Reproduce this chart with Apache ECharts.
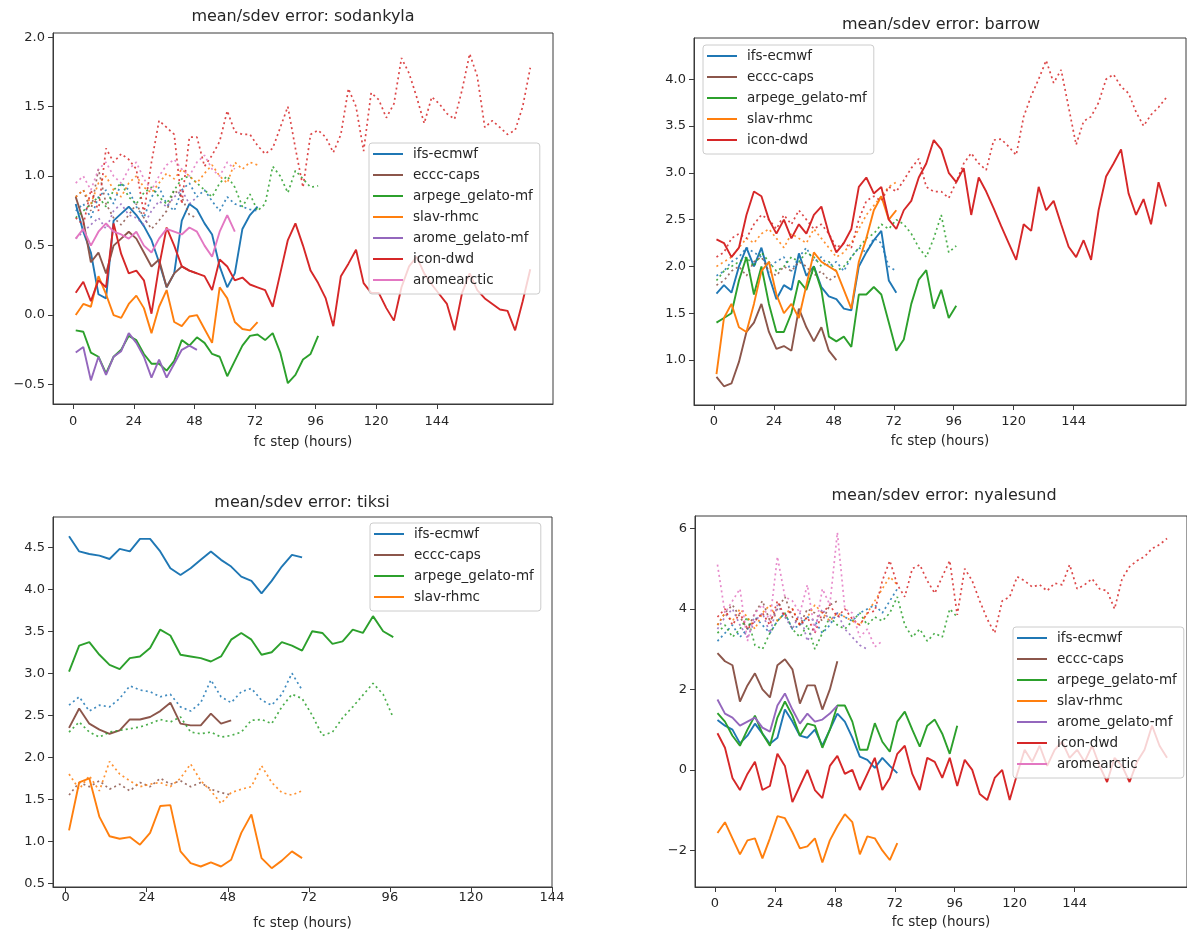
<!DOCTYPE html>
<html>
<head>
<meta charset="utf-8">
<title>mean/sdev error</title>
<script src="https://cdn.jsdelivr.net/npm/echarts@6/dist/echarts.min.js"></script>
<style>
  html, body { margin: 0; padding: 0; background: #ffffff; }
  #chart { width: 1187px; height: 930px; }
</style>
</head>
<body>
<div id="chart"></div>
<script>
// Forecast steps: every series starts at hour 1 and is sampled every 3 hours.
const STEP_START = 1;
const STEP_HOURS = 3;

const xTicks = [0, 24, 48, 72, 96, 120, 144];
const sodYTicks = [-0.5, 0.0, 0.5, 1.0, 1.5, 2.0];
const barYTicks = [1.0, 1.5, 2.0, 2.5, 3.0, 3.5, 4.0];
const tikYTicks = [0.5, 1.0, 1.5, 2.0, 2.5, 3.0, 3.5, 4.0, 4.5];
const nyaYTicks = [-2, 0, 2, 4, 6];

const stations = ['sodankyla', 'barrow', 'tiksi', 'nyalesund'];
const models = ['ifs-ecmwf', 'eccc-caps', 'arpege_gelato-mf', 'slav-rhmc', 'arome_gelato-mf', 'icon-dwd', 'aromearctic'];

// ---- sodankyla ----
const sodIfsMean = [0.80,0.60,0.45,0.15,0.12,0.68,0.73,0.78,0.72,0.64,0.54,0.38,0.20,0.30,0.68,0.80,0.76,0.66,0.58,0.35,0.20,0.30,0.62,0.72,0.78];
const sodIfsSdev = [0.75,0.80,0.70,0.85,0.90,0.80,0.95,0.90,0.78,0.70,0.85,0.92,0.80,0.75,0.90,0.95,0.85,0.90,0.82,0.75,0.85,0.80,0.78,0.76,0.75];
const sodEccMean = [0.85,0.68,0.38,0.45,0.30,0.50,0.55,0.60,0.55,0.45,0.35,0.40,0.20,0.30,0.35,0.32,0.30];
const sodEccSdev = [0.85,0.90,0.75,1.05,0.80,0.70,0.65,0.72,0.80,0.70,0.62,0.68,0.75,0.90,0.85,0.72,0.70];
const sodArpMean = [-0.11,-0.12,-0.27,-0.30,-0.42,-0.30,-0.25,-0.15,-0.18,-0.28,-0.35,-0.35,-0.40,-0.33,-0.18,-0.22,-0.16,-0.20,-0.28,-0.30,-0.44,-0.33,-0.22,-0.15,-0.14,-0.18,-0.13,-0.27,-0.49,-0.43,-0.32,-0.28,-0.15];
const sodArpSdev = [0.70,0.75,0.80,0.85,0.78,0.90,0.95,0.85,0.80,0.88,0.92,0.85,0.80,0.90,0.98,1.00,0.95,0.90,0.85,0.95,1.00,0.92,0.78,0.87,0.75,0.80,1.07,1.00,0.88,1.04,0.98,0.92,0.93];
const sodSlaMean = [0.00,0.08,0.06,0.28,0.15,0.00,-0.02,0.08,0.14,0.05,-0.13,0.06,0.18,-0.05,-0.08,-0.01,0.00,-0.10,-0.20,0.20,0.12,-0.05,-0.10,-0.11,-0.05];
const sodSlaSdev = [0.85,0.90,0.80,0.95,1.00,0.90,0.85,0.95,1.00,0.92,0.88,0.95,1.02,0.98,1.05,1.00,0.95,1.02,1.08,1.00,0.95,1.10,1.05,1.10,1.08];
const sodAroMean = [-0.27,-0.23,-0.47,-0.30,-0.43,-0.30,-0.26,-0.13,-0.20,-0.30,-0.45,-0.32,-0.45,-0.35,-0.25,-0.22,-0.25];
const sodAroSdev = [0.55,0.60,0.65,0.70,0.62,0.75,0.80,0.72,0.70,0.65,0.75,0.82,0.78,0.85,0.90,0.80,0.85];
const sodIcoMean = [0.16,0.24,0.10,0.25,0.20,0.66,0.44,0.30,0.32,0.25,0.01,0.35,0.63,0.50,0.35,0.32,0.30,0.28,0.18,0.40,0.35,0.25,0.27,0.22,0.20,0.18,0.06,0.30,0.54,0.66,0.50,0.32,0.23,0.12,-0.08,0.28,0.37,0.47,0.23,0.16,0.16,0.05,-0.04,0.20,0.35,0.42,0.30,0.22,0.15,0.08,-0.11,0.16,0.30,0.18,0.12,0.08,0.04,0.03,-0.11,0.10,0.33];
const sodIcoSdev = [0.70,0.65,0.90,0.75,1.20,1.10,1.16,1.12,1.05,0.73,1.10,1.40,1.35,1.30,0.80,1.28,1.28,1.07,1.15,1.25,1.47,1.32,1.30,1.30,1.22,1.16,1.20,1.35,1.50,1.20,0.92,1.30,1.33,1.28,1.17,1.30,1.63,1.50,1.18,1.60,1.55,1.42,1.52,1.85,1.74,1.57,1.38,1.57,1.52,1.45,1.41,1.62,1.88,1.72,1.35,1.40,1.35,1.30,1.33,1.50,1.78];
const sodArcMean = [0.55,0.62,0.50,0.60,0.66,0.60,0.58,0.55,0.60,0.50,0.45,0.55,0.62,0.60,0.58,0.63,0.60,0.50,0.42,0.60,0.72,0.60];
const sodArcSdev = [0.95,1.00,0.90,1.05,1.10,1.00,0.95,1.05,1.10,0.98,0.90,1.00,1.08,1.12,1.05,1.00,1.10,1.15,1.05,1.00,1.10,1.05];

// ---- barrow ----
const barIfsMean = [1.71,1.80,1.72,2.00,2.20,2.00,2.20,1.90,1.65,1.80,1.75,2.14,1.90,2.00,1.78,1.68,1.65,1.55,1.53,2.00,2.15,2.28,2.38,1.85,1.72];
const barIfsSdev = [1.90,1.95,2.05,2.10,2.20,2.15,2.10,2.00,2.05,2.10,1.95,2.10,2.20,2.05,2.10,2.00,2.05,1.95,2.10,2.20,2.15,2.30,2.25,2.00,1.95];
const barEccMean = [0.82,0.72,0.75,0.98,1.30,1.40,1.60,1.30,1.12,1.15,1.10,1.55,1.35,1.20,1.35,1.10,1.00];
const barEccSdev = [1.80,1.85,1.95,2.00,1.90,2.05,2.10,1.95,1.90,2.00,1.95,2.05,2.00,1.90,1.95,1.85,1.90];
const barArpMean = [1.40,1.45,1.50,1.85,2.10,1.70,2.00,1.60,1.30,1.30,1.50,1.85,1.75,2.00,1.75,1.25,1.20,1.25,1.14,1.70,1.70,1.78,1.70,1.40,1.10,1.22,1.60,1.86,1.96,1.55,1.75,1.45,1.58];
const barArpSdev = [1.85,1.95,2.00,2.05,2.10,2.00,2.15,2.05,1.95,2.00,2.10,2.05,2.15,2.10,2.00,2.05,1.95,2.00,2.10,2.20,2.30,2.35,2.45,2.40,2.50,2.45,2.35,2.20,2.10,2.30,2.55,2.15,2.22];
const barSlaMean = [0.85,1.45,1.60,1.35,1.30,1.60,1.95,2.05,1.70,1.50,1.60,1.45,1.80,2.15,2.05,2.00,1.95,1.75,1.55,2.05,2.30,2.60,2.75,2.50,2.60];
const barSlaSdev = [2.00,2.05,2.10,2.20,2.30,2.25,2.35,2.40,2.30,2.20,2.35,2.30,2.25,2.40,2.30,2.20,2.10,2.15,2.25,2.40,2.55,2.65,2.75,2.85,2.90];
const barIcoMean = [2.29,2.25,2.10,2.20,2.55,2.80,2.75,2.50,2.35,2.50,2.30,2.45,2.35,2.55,2.64,2.35,2.15,2.25,2.40,2.85,2.95,2.78,2.85,2.50,2.40,2.60,2.70,2.95,3.10,3.35,3.25,3.00,2.90,3.05,2.55,2.95,2.80,2.62,2.43,2.25,2.07,2.45,2.38,2.85,2.60,2.70,2.45,2.21,2.10,2.28,2.07,2.60,2.96,3.10,3.25,2.78,2.55,2.72,2.45,2.90,2.64];
const barIcoSdev = [2.10,2.15,2.30,2.35,2.30,2.45,2.55,2.50,2.40,2.55,2.45,2.60,2.50,2.40,2.45,2.35,2.20,2.25,2.20,2.50,2.70,2.75,2.70,2.85,2.80,2.92,3.05,3.15,2.85,2.80,2.80,2.73,2.90,3.10,3.21,3.10,3.03,3.35,3.36,3.28,3.19,3.60,3.82,4.00,4.20,3.96,4.10,3.70,3.30,3.55,3.60,3.75,4.00,4.05,3.92,3.85,3.65,3.50,3.62,3.70,3.80];

// ---- tiksi ----
const tikIfsMean = [4.63,4.45,4.42,4.40,4.36,4.48,4.45,4.60,4.60,4.45,4.25,4.17,4.25,4.35,4.45,4.35,4.27,4.15,4.10,3.95,4.10,4.27,4.41,4.38];
const tikIfsSdev = [2.62,2.72,2.55,2.62,2.60,2.70,2.85,2.80,2.78,2.72,2.75,2.60,2.55,2.65,2.92,2.72,2.65,2.78,2.82,2.68,2.62,2.75,3.00,2.80];
const tikEccMean = [2.35,2.58,2.40,2.33,2.28,2.32,2.45,2.45,2.48,2.55,2.65,2.40,2.38,2.38,2.52,2.40,2.44];
const tikEccSdev = [1.55,1.70,1.65,1.72,1.62,1.68,1.60,1.70,1.65,1.75,1.68,1.72,1.65,1.70,1.62,1.58,1.55];
const tikArpMean = [3.02,3.33,3.37,3.22,3.10,3.05,3.18,3.20,3.30,3.52,3.45,3.22,3.20,3.18,3.14,3.20,3.40,3.48,3.40,3.22,3.25,3.37,3.33,3.27,3.50,3.48,3.35,3.38,3.52,3.48,3.68,3.50,3.43];
const tikArpSdev = [2.30,2.42,2.30,2.24,2.30,2.32,2.34,2.36,2.40,2.45,2.42,2.48,2.30,2.28,2.30,2.24,2.26,2.30,2.44,2.45,2.40,2.60,2.75,2.70,2.50,2.26,2.30,2.47,2.60,2.74,2.88,2.75,2.47];
const tikSlaMean = [1.13,1.70,1.75,1.29,1.06,1.03,1.05,0.96,1.10,1.42,1.43,0.88,0.74,0.70,0.75,0.70,0.78,1.10,1.32,0.80,0.68,0.77,0.88,0.80];
const tikSlaSdev = [1.80,1.62,1.78,1.60,1.95,1.80,1.72,1.65,1.68,1.70,1.65,1.75,1.92,1.72,1.60,1.45,1.58,1.62,1.65,1.90,1.70,1.58,1.55,1.60];

// ---- nyalesund ----
const nyaIfsMean = [1.24,1.10,1.00,0.66,0.85,1.15,0.90,0.65,0.80,1.50,1.20,0.85,0.80,1.00,0.60,1.00,1.40,1.20,0.80,0.33,0.25,0.05,0.30,0.10,-0.08];
const nyaIfsSdev = [3.20,3.40,3.60,3.30,3.50,3.80,3.60,3.40,3.70,3.90,3.50,3.60,3.80,3.70,3.40,3.60,3.90,3.80,3.70,3.90,4.00,4.10,3.90,4.20,4.50];
const nyaEccMean = [2.90,2.70,2.60,1.70,2.10,2.40,2.00,1.80,2.60,2.75,2.50,1.65,2.10,2.10,1.50,2.00,2.70];
const nyaEccSdev = [3.60,3.90,4.10,3.80,3.50,3.90,4.20,3.70,4.00,4.30,3.80,3.60,4.00,3.90,3.70,4.10,4.20];
const nyaArpMean = [1.41,1.20,0.85,0.60,1.00,1.35,0.90,0.60,1.30,1.70,1.35,0.85,1.15,1.10,0.55,1.00,1.60,1.60,1.20,0.50,0.50,1.16,0.70,0.45,1.20,1.45,1.00,0.58,1.10,1.25,0.90,0.40,1.10];
const nyaArpSdev = [3.40,3.60,3.30,3.50,3.80,3.10,3.00,3.40,3.70,3.90,3.50,3.30,3.60,3.00,3.40,3.80,3.60,3.50,3.70,3.90,3.60,3.80,3.70,3.90,4.30,3.60,3.30,3.50,3.20,3.40,3.30,4.00,3.80];
const nyaSlaMean = [-1.57,-1.30,-1.70,-2.10,-1.75,-1.70,-2.20,-1.70,-1.15,-1.20,-1.55,-1.95,-1.90,-1.70,-2.30,-1.75,-1.40,-1.10,-1.30,-2.10,-1.65,-1.70,-2.00,-2.24,-1.82];
const nyaSlaSdev = [3.60,3.90,3.70,4.00,3.80,3.50,3.90,4.10,3.70,3.90,4.00,3.60,3.80,4.10,3.90,3.70,3.90,3.80,3.70,3.60,3.90,4.20,4.50,4.80,4.60];
const nyaAroMean = [1.75,1.40,1.30,1.10,1.20,1.30,1.05,0.95,1.60,1.90,1.50,1.15,1.40,1.20,1.25,1.40,1.60];
const nyaAroSdev = [3.50,3.80,4.00,3.60,3.30,3.70,3.90,3.40,4.10,3.80,3.50,3.90,3.20,3.60,4.00,3.70,3.90,3.50,3.30,3.10,3.00];
const nyaIcoMean = [0.91,0.55,-0.20,-0.50,-0.10,0.20,-0.50,-0.40,0.40,0.10,-0.80,-0.40,0.00,-0.50,-0.70,0.10,0.35,-0.10,0.00,-0.50,-0.10,0.30,-0.50,-0.20,0.40,0.60,-0.10,-0.50,0.30,0.20,-0.20,0.30,-0.40,0.25,0.00,-0.60,-0.75,-0.20,0.00,-0.75,-0.10,0.50,0.20,0.60,0.10,0.50,0.70,0.30,0.50,0.20,0.60,0.10,-0.30,0.30,0.10,-0.30,0.20,0.50,1.10,0.60,0.30];
const nyaIcoSdev = [3.80,4.00,3.60,3.90,3.50,3.70,3.90,3.60,4.20,3.80,4.00,3.60,3.80,3.40,3.90,4.10,3.80,4.00,3.75,3.60,3.90,3.95,4.70,5.20,4.60,4.30,5.00,5.10,4.70,4.39,4.80,5.20,3.85,5.00,4.70,4.20,3.75,3.40,4.20,4.30,4.80,4.70,4.55,4.60,4.45,4.64,4.60,5.10,4.50,4.60,4.75,4.50,4.45,4.00,4.75,5.05,5.20,5.30,5.50,5.60,5.75];
const nyaArcSdev = [5.10,3.90,4.20,4.50,3.20,3.90,4.10,3.70,5.30,4.30,4.20,3.90,4.60,3.40,4.50,4.10,5.90,4.00,3.90,3.30,3.50,3.06,3.20];

// ---------------------------------------------------------------
const FONT = '"DejaVu Sans", "Liberation Sans", sans-serif';
const INK = '#262626';
const SPINE = '#3a3a3a';
const COLORS = {
  'ifs-ecmwf': '#1f77b4',
  'eccc-caps': '#8c564b',
  'arpege_gelato-mf': '#2ca02c',
  'slav-rhmc': '#ff7f0e',
  'arome_gelato-mf': '#9467bd',
  'icon-dwd': '#d62728',
  'aromearctic': '#e377c2'
};

// per panel: [model, mean values, sdev values]
const panelLines = [
  [
    ['ifs-ecmwf', sodIfsMean, sodIfsSdev],
    ['eccc-caps', sodEccMean, sodEccSdev],
    ['arpege_gelato-mf', sodArpMean, sodArpSdev],
    ['slav-rhmc', sodSlaMean, sodSlaSdev],
    ['arome_gelato-mf', sodAroMean, sodAroSdev],
    ['icon-dwd', sodIcoMean, sodIcoSdev],
    ['aromearctic', sodArcMean, sodArcSdev]
  ],
  [
    ['ifs-ecmwf', barIfsMean, barIfsSdev],
    ['eccc-caps', barEccMean, barEccSdev],
    ['arpege_gelato-mf', barArpMean, barArpSdev],
    ['slav-rhmc', barSlaMean, barSlaSdev],
    ['icon-dwd', barIcoMean, barIcoSdev]
  ],
  [
    ['ifs-ecmwf', tikIfsMean, tikIfsSdev],
    ['eccc-caps', tikEccMean, tikEccSdev],
    ['arpege_gelato-mf', tikArpMean, tikArpSdev],
    ['slav-rhmc', tikSlaMean, tikSlaSdev]
  ],
  [
    ['ifs-ecmwf', nyaIfsMean, nyaIfsSdev],
    ['eccc-caps', nyaEccMean, nyaEccSdev],
    ['arpege_gelato-mf', nyaArpMean, nyaArpSdev],
    ['slav-rhmc', nyaSlaMean, nyaSlaSdev],
    ['arome_gelato-mf', nyaAroMean, nyaAroSdev],
    ['icon-dwd', nyaIcoMean, nyaIcoSdev],
    ['aromearctic', null, nyaArcSdev]
  ]
];

const panelLegends = [
  models,
  ['ifs-ecmwf', 'eccc-caps', 'arpege_gelato-mf', 'slav-rhmc', 'icon-dwd'],
  ['ifs-ecmwf', 'eccc-caps', 'arpege_gelato-mf', 'slav-rhmc'],
  models
];

// layout of the four axes boxes
const layout = [
  { grid: { left: 53, top: 33, width: 500, height: 371 }, x: [-8, 190], y: [-0.64, 2.03], yTicks: sodYTicks, dec: 1,
    title: [303, 17], labelMargin: 11, nameGap: 31, legend: { left: 369, top: 143 } },
  { grid: { left: 694, top: 38, width: 492, height: 367 }, x: [-8, 189], y: [0.52, 4.44], yTicks: barYTicks, dec: 1,
    title: [941, 25], labelMargin: 10, nameGap: 29, legend: { left: 703, top: 45 } },
  { grid: { left: 53, top: 517, width: 499, height: 370 }, x: [-3.75, 144], y: [0.456, 4.86], yTicks: tikYTicks, dec: 1,
    title: [302, 503], labelMargin: 4, nameGap: 29, legend: { left: 370, top: 523 } },
  { grid: { left: 695, top: 516, width: 492, height: 371 }, x: [-8, 189], y: [-2.91, 6.31], yTicks: nyaYTicks, dec: 0,
    title: [944, 496], labelMargin: 10, nameGap: 28, legend: { left: 1013, top: 627 } }
];

function fmt(v, dec) {
  const s = Math.abs(v).toFixed(dec);
  return (v < 0 ? '\u2212' : '') + s;
}

function toPoints(vals) {
  return vals.map((v, i) => [STEP_START + i * STEP_HOURS, v]);
}

function lineSeries(gi, model, vals, dotted) {
  const c = COLORS[model];
  return {
    type: 'line',
    name: dotted ? model + ' sdev' : model,
    xAxisIndex: gi,
    yAxisIndex: gi,
    data: toPoints(vals),
    showSymbol: false,
    symbol: 'none',
    silent: true,
    animation: false,
    clip: true,
    emphasis: { disabled: true },
    itemStyle: { color: c },
    lineStyle: dotted
      ? { color: c, width: 1.7, type: [2, 3.2], opacity: 0.85, cap: 'butt' }
      : { color: c, width: 1.9, type: 'solid' }
  };
}

const grids = [], xAxes = [], yAxes = [], series = [], legends = [], texts = [];

layout.forEach((p, gi) => {
  grids.push(Object.assign({
    show: true, borderColor: SPINE, borderWidth: 1, backgroundColor: 'transparent',
    containLabel: false, outerBoundsMode: 'none'
  }, p.grid));

  xAxes.push({
    gridIndex: gi, type: 'value', min: p.x[0], max: p.x[1],
    axisLine: { show: true, onZero: false, lineStyle: { color: SPINE, width: 1 } },
    axisTick: { show: true, length: 5, lineStyle: { color: SPINE }, customValues: xTicks },
    axisLabel: { customValues: xTicks, margin: p.labelMargin, fontFamily: FONT, fontSize: 13, color: INK },
    splitLine: { show: false },
    name: 'fc step (hours)', nameLocation: 'middle', nameGap: p.nameGap,
    nameTextStyle: { fontFamily: FONT, fontSize: 13.5, color: INK }
  });

  yAxes.push({
    gridIndex: gi, type: 'value', min: p.y[0], max: p.y[1],
    axisLine: { show: true, onZero: false, lineStyle: { color: SPINE, width: 1 } },
    axisTick: { show: true, length: 5, lineStyle: { color: SPINE }, customValues: p.yTicks },
    axisLabel: { customValues: p.yTicks, margin: 8, fontFamily: FONT, fontSize: 13, color: INK,
                 formatter: (v) => fmt(v, p.dec) },
    splitLine: { show: false }
  });

  panelLines[gi].forEach(([model, mean, sdev]) => {
    if (mean) series.push(lineSeries(gi, model, mean, false));
    if (sdev) series.push(lineSeries(gi, model, sdev, true));
  });

  legends.push({
    orient: 'vertical', left: p.legend.left, top: p.legend.top,
    data: panelLegends[gi], selectedMode: false,
    icon: 'rect', itemWidth: 30, itemHeight: 2, itemGap: 5,
    padding: [3, 7, 6, 4],
    backgroundColor: 'rgba(255,255,255,0.8)', borderColor: '#cccccc', borderWidth: 1, borderRadius: 3,
    textStyle: { fontFamily: FONT, fontSize: 13.5, color: INK, lineHeight: 16, padding: [0, 0, 0, 5] }
  });

  texts.push({
    type: 'text', x: p.title[0], y: p.title[1], silent: true,
    style: { text: 'mean/sdev error: ' + stations[gi], fill: INK, font: '16px ' + FONT,
             align: 'center', verticalAlign: 'middle', textAlign: 'center', textVerticalAlign: 'middle' }
  });
});

const chart = echarts.init(document.getElementById('chart'), null, { renderer: 'canvas' });
chart.setOption({
  backgroundColor: '#ffffff',
  animation: false,
  grid: grids,
  xAxis: xAxes,
  yAxis: yAxes,
  legend: legends,
  series: series,
  graphic: texts
});
</script>
</body>
</html>
